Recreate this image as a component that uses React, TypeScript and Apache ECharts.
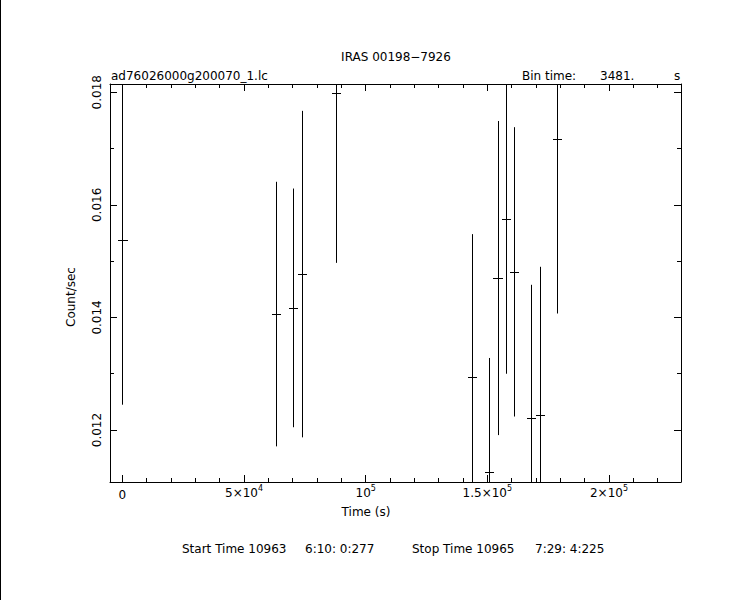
import React, { useEffect, useRef } from "react";
import * as echarts from "echarts";

const times = [0, 63200, 70100, 73800, 87800, 143700, 150700, 154200, 157600, 160900, 168000, 171600, 178600];
const rates = [0.01537, 0.01406, 0.01417, 0.01477, 0.01798, 0.01294, 0.01125, 0.0147, 0.01575, 0.01481, 0.01221, 0.01226, 0.01717];
const errors = [0.00292, 0.00235, 0.00212, 0.0029, 0.00301, 0.00254, 0.00203, 0.00279, 0.00275, 0.00257, 0.00237, 0.00264, 0.0031];
const binTime = 3481;
const xLabelBase: Record<string, string> = { "0": "0", "50000": "5×10", "100000": "10", "150000": "1.5×10", "200000": "2×10" };
const xLabelExp: Record<string, string> = { "0": "", "50000": "4", "100000": "5", "150000": "5", "200000": "5" };

const X_MIN = -5100;
const X_MAX = 229600;
const Y_MIN = 0.011077;
const Y_MAX = 0.018147;

const FONT = "DejaVu Sans";

export default function App() {
  const ref = useRef<HTMLDivElement>(null);
  useEffect(() => {
    if (!ref.current) return;
    const chart = echarts.init(ref.current, undefined, { renderer: "svg" });
    const data = times.map((t, i) => [t, rates[i], errors[i]]);
    const axisCommon = {
      type: "value" as const,
      axisLine: { show: true, onZero: false, lineStyle: { color: "#000", width: 1 } },
      axisTick: { show: true, inside: true, length: 7, lineStyle: { color: "#000" } },
      splitLine: { show: false },
    };
    const xCommon = {
      ...axisCommon,
      min: X_MIN,
      max: X_MAX,
      minInterval: 50000,
      maxInterval: 50000,
      minorTick: { show: true, splitNumber: 5, length: 4, lineStyle: { color: "#000" } },
    };
    const yCommon = {
      ...axisCommon,
      min: Y_MIN,
      max: Y_MAX,
      minInterval: 0.002,
      maxInterval: 0.002,
      minorTick: { show: true, splitNumber: 2, length: 4, lineStyle: { color: "#000" } },
    };
    const txt = (text: string, x: number, y: number, align: string, extra: any = {}) => ({
      type: "text",
      x,
      y,
      ...extra,
      style: { text, fill: "#000", font: `12px "${FONT}"`, textAlign: align, textVerticalAlign: "middle" },
    });
    chart.setOption({
      animation: false,
      backgroundColor: "#fff",
      grid: { left: 110, top: 84, width: 571, height: 398, containLabel: false },
      xAxis: [
        {
          ...xCommon,
          position: "bottom",
          axisLabel: {
            show: true,
            showMinLabel: false,
            showMaxLabel: false,
            color: "#000",
            fontFamily: FONT,
            fontSize: 12,
            margin: 3,
            formatter: (v: number) => {
              const k = String(v);
              if (!(k in xLabelBase)) return "";
              const e = xLabelExp[k];
              return e ? `{b|${xLabelBase[k]}}{s|${e}}` : `{b|${xLabelBase[k]}}{z| }`;
            },
            rich: {
              b: { fontSize: 12, fontFamily: FONT, color: "#000", verticalAlign: "bottom", lineHeight: 14 },
              s: { fontSize: 8, fontFamily: FONT, color: "#000", verticalAlign: "bottom", lineHeight: 9, padding: [0, 0, 7, 0] },
              z: { fontSize: 1, lineHeight: 16 },
            },
          },
        },
        { ...xCommon, position: "top", axisLabel: { show: false } },
      ],
      yAxis: [
        {
          ...yCommon,
          position: "left",
          axisLabel: {
            show: true,
            showMinLabel: false,
            showMaxLabel: false,
            rotate: 90,
            color: "#000",
            fontFamily: FONT,
            fontSize: 12,
            margin: 7,
            formatter: (v: number) => v.toFixed(3),
          },
        },
        { ...yCommon, position: "right", axisLabel: { show: false } },
      ],
      series: [
        {
          type: "custom",
          xAxisIndex: 0,
          yAxisIndex: 0,
          data,
          renderItem: (params: any, api: any) => {
            const t = api.value(0);
            const y = api.value(1);
            const e = api.value(2);
            const cs = params.coordSys;
            const top = cs.y;
            const bottom = cs.y + cs.height;
            const c = api.coord([t, y]);
            const lo = api.coord([t, y - e]);
            const hi = api.coord([t, y + e]);
            const l = api.coord([t - binTime / 2, y]);
            const r = api.coord([t + binTime / 2, y]);
            const clamp = (v: number) => Math.max(top, Math.min(bottom, v));
            const px = Math.round(c[0]) + 0.5;
            const py = Math.round(c[1]) + 0.5;
            const children: any[] = [
              {
                type: "line",
                shape: { x1: px, y1: clamp(lo[1]), x2: px, y2: clamp(hi[1]) },
                style: { stroke: "#000", lineWidth: 1 },
              },
            ];
            if (c[1] >= top && c[1] <= bottom) {
              children.push({
                type: "line",
                shape: { x1: Math.round(l[0]), y1: py, x2: Math.round(r[0]) + 1, y2: py },
                style: { stroke: "#000", lineWidth: 1 },
              });
            }
            return { type: "group", children };
          },
        },
      ],
      graphic: [
        {
          type: "line",
          shape: { x1: 0.5, y1: 0, x2: 0.5, y2: 600 },
          style: { stroke: "#000", lineWidth: 1 },
        },
        txt("IRAS 00198−7926", 396, 57, "center"),
        txt("ad76026000g200070_1.lc", 111, 76, "left"),
        txt("Bin time:", 522, 76, "left"),
        txt("3481.", 600, 76, "left"),
        txt("s", 677, 76, "center"),
        txt("Time (s)", 366, 512, "center"),
        txt("Count/sec", 71, 297, "center", { rotation: Math.PI / 2 }),
        txt("Start Time 10963", 182, 549, "left"),
        txt("6:10: 0:277", 305, 549, "left"),
        txt("Stop Time 10965", 412, 549, "left"),
        txt("7:29: 4:225", 535, 549, "left"),
      ],
    });
    return () => chart.dispose();
  }, []);
  return <div ref={ref} style={{ position: "absolute", left: 0, top: 0, width: 743, height: 607 }} />;
}
